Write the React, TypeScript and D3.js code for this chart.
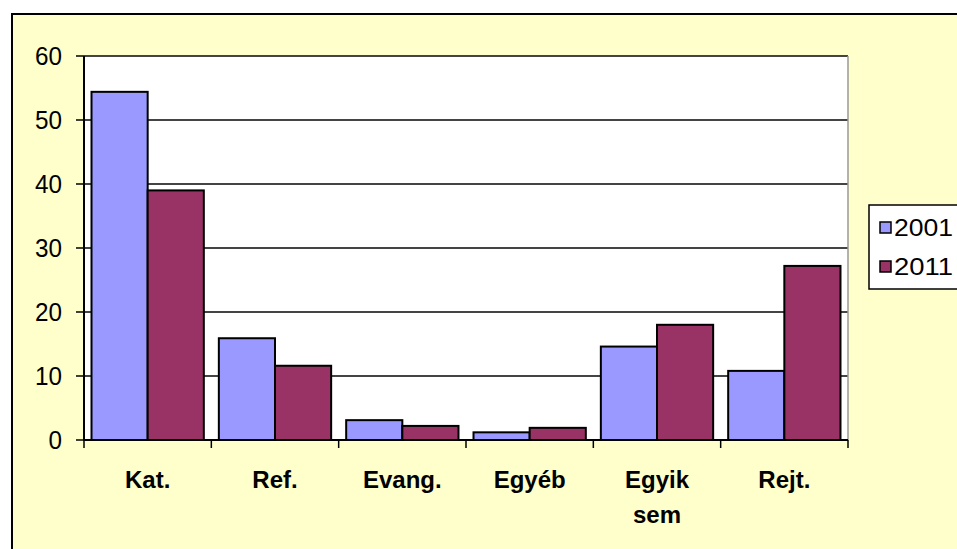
import React from "react";
import * as d3 from "d3";

const categories = ["Kat.", "Ref.", "Evang.", "Egyéb", "Egyik sem", "Rejt."];
const series = ["2001", "2011"];
const values2001 = [54.4, 15.9, 3.1, 1.2, 14.6, 10.8];
const values2011 = [39.0, 11.6, 2.2, 1.9, 18.0, 27.2];
const yTicks = [0, 10, 20, 30, 40, 50, 60];
const colors = ["#9999FF", "#993366"];

export default function App() {
  const W = 957, H = 549;
  const left = 84, right = 848, top = 56, bottom = 440;
  const x = d3.scaleBand<string>().domain(categories).range([left, right]).paddingInner(0.118).paddingOuter(0.059);
  const x0 = d3.scaleBand<string>().domain(categories).range([left, right]);
  const xs = d3.scaleBand<string>().domain(series).range([0, x.bandwidth()]);
  const y = d3.scaleLinear().domain([0, 60]).range([bottom, top]);
  const data = [values2001, values2011];
  return (
    <svg width={W} height={H} style={{ position: "absolute", left: 0, top: 0 }} fontFamily="Arial, 'Liberation Sans', sans-serif">
      <rect x={0} y={0} width={W} height={H} fill="#ffffff" />
      <rect x={12} y={14} width={W + 10} height={H + 10} fill="#FFFFCC" stroke="#000" strokeWidth={2} />
      <rect x={left} y={top} width={right - left} height={bottom - top} fill="#ffffff" />
      {yTicks.map((t) => (
        <g key={t}>
          {t > 0 && <line x1={left} x2={right} y1={y(t)} y2={y(t)} stroke="#444" strokeWidth={2} />}
          <line x1={left - 8} x2={left} y1={y(t)} y2={y(t)} stroke="#000" strokeWidth={1.5} />
          <text x={62} y={y(t) + 9} textAnchor="end" fontSize={25} textLength={String(t).length * 13.5} lengthAdjust="spacingAndGlyphs">{t}</text>
        </g>
      ))}
      <line x1={right} x2={right} y1={top} y2={bottom} stroke="#999" strokeWidth={1.5} />
      {categories.map((c, i) => (
        <g key={c}>
          {series.map((s, j) => (
            <rect key={s} x={(x(c) as number) + (xs(s) as number)} y={y(data[j][i])} width={xs.bandwidth()} height={bottom - y(data[j][i])} fill={colors[j]} stroke="#000" strokeWidth={2} />
          ))}
        </g>
      ))}
      <line x1={left} x2={left} y1={top} y2={bottom + 1} stroke="#000" strokeWidth={2} />
      <line x1={left} x2={right} y1={bottom} y2={bottom} stroke="#000" strokeWidth={2} />
      {[...categories.map((c) => x0(c) as number), right].map((p, i) => (
        <line key={i} x1={p} x2={p} y1={bottom} y2={bottom + 8} stroke="#000" strokeWidth={1.5} />
      ))}
      {categories.map((c) => {
        const cx = (x0(c) as number) + x0.bandwidth() / 2;
        const parts = c === "Egyik sem" ? ["Egyik", "sem"] : [c];
        return (
          <text key={c} x={cx} y={488} textAnchor="middle" fontSize={24} fontWeight="bold">
            {parts.map((p, k) => (
              <tspan key={k} x={cx} dy={k === 0 ? 0 : 35}>{p}</tspan>
            ))}
          </text>
        );
      })}
      <rect x={869} y={205} width={100} height={84} fill="#ffffff" stroke="#000" strokeWidth={1.5} />
      {series.map((s, j) => (
        <g key={s}>
          <rect x={880} y={222 + j * 39} width={11} height={11} fill={colors[j]} stroke="#000" strokeWidth={1.5} />
          <text x={894} y={236 + j * 39} fontSize={23} textLength={59} lengthAdjust="spacingAndGlyphs">{s}</text>
        </g>
      ))}
    </svg>
  );
}
